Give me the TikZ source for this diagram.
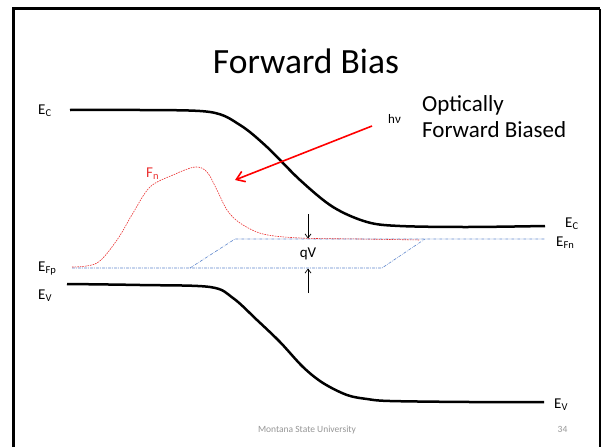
\documentclass[tikz,border=0pt]{standalone}
\usepackage{fontspec}
\setmainfont{Carlito}
\usetikzlibrary{arrows.meta}
\definecolor{fnred}{RGB}{235,50,50}
\definecolor{efblue}{RGB}{95,135,205}
\definecolor{footgray}{RGB}{150,150,150}
\begin{document}
\begin{tikzpicture}[x=1pt,y=-1pt,
  band/.style={line width=2.5pt, line join=round},
  lbl/.style={font=\fontsize{15}{15}\selectfont, inner sep=0pt, anchor=base west},
  fnline/.style={fnred, line width=0.6pt, dash pattern=on 1.6pt off 1pt},
  efline/.style={efblue, line width=0.6pt, dash pattern=on 3pt off 1.2pt on 0.6pt off 1.2pt},
  qvarrow/.style={line width=0.7pt, -{Straight Barb[length=4pt,width=6pt]}},
  lightarrow/.style={red, line width=1.6pt, -{Straight Barb[length=8pt,width=11pt]}}]
\useasboundingbox (0,0) rectangle (602,447);
\fill[white] (0,0) rectangle (602,447);
% frame
\draw[line width=3pt] (13.5,447) -- (13.5,8.5) -- (600,8.5);
\draw[line width=1.2pt] (600,8.5) -- (600,447);
% title
\node[font=\fontsize{35.5}{35.5}\selectfont, inner sep=0pt, anchor=base] (title) at (306,73) {Forward Bias};
% bands
\draw[band] plot[smooth, tension=0.55] coordinates {(70,110) (140,110) (210,112) (240,125) (267,147) (300,180) (333,207) (367,222) (400,226) (467,227) (545,226)};
\draw[band] plot[smooth, tension=0.55] coordinates {(67,284) (140,285) (210,287) (233,298) (257,320) (280,342) (303,367) (323,383) (347,395) (367,399) (390,401) (470,402) (544,402)};
% quasi Fermi levels
\draw[efline] (72,268) -- (382,268) -- (425,239);
\draw[efline] (190,268) -- (235,239) -- (545,239);
\draw[fnline] plot[smooth, tension=0.55] coordinates {(72,267) (97,263) (117,240) (133,213) (150,187) (173,175) (195,167) (207,172) (217,190) (227,210) (240,223) (263,234) (300,238) (360,239) (420,240)};
% labels
\node[lbl] (ecl) at (38,114) {E\textsubscript{C}};
\node[lbl] (efp) at (38,271) {E\textsubscript{Fp}};
\node[lbl] (evl) at (38,299) {E\textsubscript{V}};
\node[lbl] (ecr) at (565,227) {E\textsubscript{C}};
\node[lbl] (efn) at (556,246) {E\textsubscript{Fn}};
\node[lbl] (evr) at (554,408) {E\textsubscript{V}};
\node[lbl, text=fnred] (fn) at (146,177) {F\textsubscript{n}};
\node[lbl, font=\fontsize{13}{13}\selectfont] (hv) at (388,123) {hν};
\node[lbl, font=\fontsize{23}{23}\selectfont] (opt1) at (422,111) {Optically};
\node[lbl, font=\fontsize{23}{23}\selectfont] (opt2) at (422,137) {Forward Biased};
\node[lbl, anchor=base] (qv) at (308,257) {qV};
% arrows
\coordinate (lightstart) at (372,126);
\coordinate (lighttip) at (235,180);
\draw[lightarrow] (lightstart) -- (lighttip);
\coordinate (qvtop) at (308,214);
\coordinate (qvtoptip) at (308,238.5);
\coordinate (qvbot) at (308,293);
\coordinate (qvbottip) at (308,268.5);
\draw[qvarrow] (qvtop) -- (qvtoptip);
\draw[qvarrow] (qvbot) -- (qvbottip);
% footer
\node[font=\fontsize{9.5}{9.5}\selectfont, text=footgray, inner sep=0pt, anchor=base] (foot) at (307,432) {Montana State University};
\node[font=\fontsize{9.5}{9.5}\selectfont, text=footgray, inner sep=0pt, anchor=base] (page) at (562.5,432) {34};
\end{tikzpicture}
\end{document}
